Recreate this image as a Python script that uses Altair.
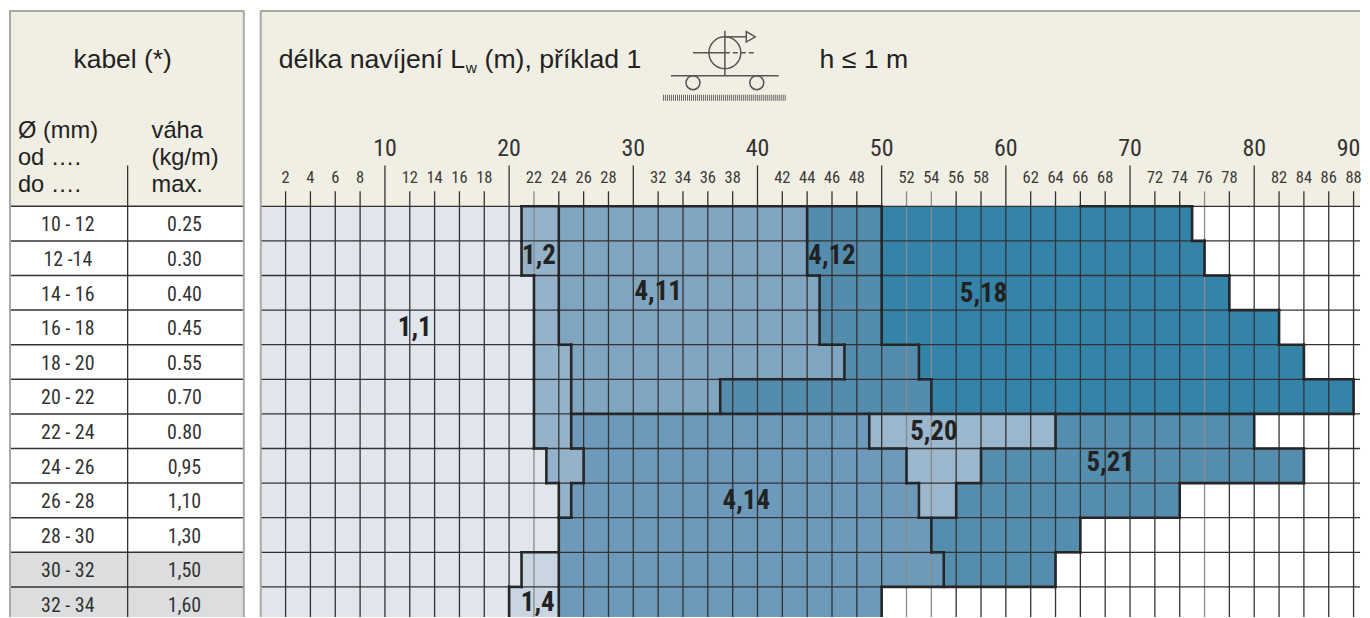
import altair as alt
import pandas as pd

# ---------- data ----------
diam_from = [10, 12, 14, 16, 18, 20, 22, 24, 26, 28, 30, 32]
diam_labels = ["10 - 12", "12 -14", "14 - 16", "16 - 18", "18 - 20", "20 - 22",
               "22 - 24", "24 - 26", "26 - 28", "28 - 30", "30 - 32", "32 - 34"]
weights = ["0.25", "0.30", "0.40", "0.45", "0.55", "0.70",
           "0.80", "0,95", "1,10", "1,30", "1,50", "1,60"]
row_fill = ["#ffffff"] * 10 + ["#dcddde"] * 2

row_edges = [
    [0, 21, 24, 44, 50, 75],
    [0, 21, 24, 44, 50, 76],
    [0, 22, 24, 45, 50, 78],
    [0, 22, 24, 45, 50, 82],
    [0, 22, 25, 47, 53, 84],
    [0, 22, 25, 37, 54, 88],
    [0, 22, 25, 49, 64, 80],
    [0, 23, 26, 52, 58, 84],
    [0, 24, 25, 53, 56, 74],
    [0, 24, 54, 66],
    [0, 21, 24, 55, 64],
    [0, 20, 24, 50],
]
row_zones = [
    ["1,1", "1,2", "4,11", "4,12", "5,18"],
    ["1,1", "1,2", "4,11", "4,12", "5,18"],
    ["1,1", "1,2", "4,11", "4,12", "5,18"],
    ["1,1", "1,2", "4,11", "4,12", "5,18"],
    ["1,1", "1,2", "4,11", "4,12", "5,18"],
    ["1,1", "1,2", "4,11", "4,12", "5,18"],
    ["1,1", "1,2", "4,14", "5,20", "5,21"],
    ["1,1", "1,2", "4,14", "5,20", "5,21"],
    ["1,1", "1,2", "4,14", "5,20", "5,21"],
    ["1,1", "4,14", "5,21"],
    ["1,1", "1,4", "4,14", "5,21"],
    ["1,1", "1,4", "4,14"],
]
zone_names = ["1,1", "1,2", "1,4", "4,11", "4,12", "4,14", "5,18", "5,20", "5,21"]
zone_colors = ["#e1e5ec", "#94b2ca", "#c9d5e1", "#80a5c1", "#548cae",
               "#6d9abb", "#3483a9", "#9bb7ce", "#548dae"]
zone_label_names = ["1,1", "1,2", "4,11", "4,12", "5,18", "5,20", "5,21", "4,14", "1,4"]
zone_label_m = [12.4, 22.4, 32.0, 46.0, 58.2, 54.2, 68.4, 39.1, 22.3]
zone_label_d = [17.06, 12.86, 14.96, 12.86, 15.06, 23.06, 24.86, 27.06, 32.96]
top_outline = [(21, 50), (66, 75)]

even_m = list(range(2, 90, 2))
grey_m = [22, 52, 54, 76]
major_labels = [10, 20, 30, 40, 50, 60, 70, 80, 90]
major_pos = [10, 20, 30, 40, 50, 60, 70, 80, 87.6]

BEIGE = "#f1eee3"
BORDER = "#a8a8a4"
DARK = "#333333"
NARROW = "'Roboto Condensed', 'Open Sans Condensed', 'DejaVu Sans Condensed', Roboto, sans-serif"
SANS = "Liberation Sans"

# ---------- scales ----------
PX_M = 12.455
H = 610
LW, RW = 237, 1103
d_scale = alt.Scale(domain=[-1.412, 33.746], range=[0, H], nice=False, zero=False)
m_scale = alt.Scale(domain=[-0.5 / PX_M, (RW - 0.5) / PX_M], range=[0, RW], nice=False, zero=False)
one = pd.DataFrame({"a": [0]})


def Y(f):
    return alt.Y(f, scale=d_scale, axis=None, title=None)


def X(f):
    return alt.X(f, scale=m_scale, axis=None, title=None)


def vtext(txt, x, y, size, font=SANS, **kw):
    return alt.Chart(one).mark_text(text=txt, font=font, fontSize=size, color="#222222",
                                    baseline="middle", **kw).encode(
        x=alt.value(x), y=alt.value(y))


def vrule(x, y, x2=None, y2=None, color=DARK, w=1.3, **kw):
    enc = dict(x=alt.value(x), y=alt.value(y))
    if x2 is not None:
        enc["x2"] = alt.value(x2)
    if y2 is not None:
        enc["y2"] = alt.value(y2)
    return alt.Chart(one).mark_rule(color=color, strokeWidth=w, **kw).encode(**enc)


# ---------- left table ----------
tbl = pd.DataFrame({"d": diam_from, "d2": [d + 2 for d in diam_from],
                    "mid": [d + 1.1 for d in diam_from],
                    "lab": diam_labels, "wt": weights, "c": row_fill})
L_TOP, L_HEAD = 2, 198
left_layers = [
    alt.Chart(one).mark_rect(color=BEIGE).encode(
        x=alt.value(2), x2=alt.value(237), y=alt.value(L_TOP), y2=alt.value(L_HEAD)),
    alt.Chart(tbl).mark_rect(clip=True).encode(
        x=alt.value(2), x2=alt.value(237), y=Y("d:Q"), y2="d2:Q",
        fill=alt.Fill("c:N", legend=None, scale=None)),
    alt.Chart(tbl).mark_rule(color=DARK, strokeWidth=1.5).encode(
        x=alt.value(2), x2=alt.value(237), y=Y("d:Q")),
    vrule(120, 157, y2=H, w=1.3),
    vrule(2, L_TOP, y2=H, color=BORDER, w=2),
    vrule(236.5, L_TOP, y2=H, color=BORDER, w=2),
    vrule(1, L_TOP, x2=237, color=BORDER, w=2),
    alt.Chart(tbl).mark_text(font=NARROW, fontSize=20, color="#333333", baseline="middle").encode(
        x=alt.value(60), y=Y("mid:Q"), text="lab:N"),
    alt.Chart(tbl).mark_text(font=NARROW, fontSize=20, color="#333333", baseline="middle").encode(
        x=alt.value(177), y=Y("mid:Q"), text="wt:N"),
    vtext("kabel (*)", 115, 51.5, 26.5, align="center"),
    vtext("Ø (mm)", 10, 122.5, 23.7, align="left"),
    vtext("od ….", 10, 150, 23.7, align="left"),
    vtext("do ….", 10, 177, 23.7, align="left"),
    vtext("váha", 144, 122.5, 23.7, align="left"),
    vtext("(kg/m)", 144, 150, 23.7, align="left"),
    vtext("max.", 144, 177, 23.7, align="left"),
]
left = alt.layer(*left_layers).properties(width=LW, height=H)

# ---------- main grid ----------
spans = []
for r, (edges, zones) in enumerate(zip(row_edges, row_zones)):
    for i, z in enumerate(zones):
        spans.append({"m": edges[i], "m2": edges[i + 1], "d": diam_from[r],
                      "d2": diam_from[r] + 2, "zone": z})
spans = pd.DataFrame(spans)


def zone_at(r, m):
    edges, zones = row_edges[r], row_zones[r]
    for i, z in enumerate(zones):
        if edges[i] <= m < edges[i + 1]:
            return z
    return None


seg = []
M_END = 90
for r in range(len(diam_from)):
    for m in range(1, M_END):
        if zone_at(r, m - 1) != zone_at(r, m):
            seg.append({"m": m, "m2": m, "d": diam_from[r], "d2": diam_from[r] + 2})
for r in range(1, len(diam_from)):
    start = None
    for m in range(0, M_END + 1):
        diff = m < M_END and zone_at(r - 1, m) != zone_at(r, m)
        if diff and start is None:
            start = m
        if not diff and start is not None:
            seg.append({"m": start, "m2": m, "d": diam_from[r], "d2": diam_from[r]})
            start = None
for a, b in top_outline:
    seg.append({"m": a, "m2": b, "d": diam_from[0], "d2": diam_from[0]})
seg = pd.DataFrame(seg)

ticks = pd.DataFrame({"m": even_m})
ticks["top"] = [7.64 if m % 10 == 0 else 9.13 for m in even_m]
ticks["bottom"] = 34
ticks["tone"] = ["grey" if m in grey_m else "dark" for m in even_m]
minor = pd.DataFrame({"m": [m for m in even_m if m % 10], "t": [str(m) for m in even_m if m % 10]})
major = pd.DataFrame({"m": major_pos, "t": [str(v) for v in major_labels]})
hlines = pd.DataFrame({"d": diam_from})
zlab = pd.DataFrame({"m": zone_label_m, "d": zone_label_d, "t": zone_label_names})


def ix(px):
    return px - 259


def iy(py):
    return py - 8


ICON = "#555555"
icon = [
    vrule(ix(693), iy(52), x2=ix(725), color=ICON, w=1.5),
    vrule(ix(725), iy(52), x2=ix(757), color=ICON, w=1.5, strokeDash=[5, 3]),
    vrule(ix(725), iy(30), y2=iy(75), color=ICON, w=1.5),
    vrule(ix(671), iy(75), x2=ix(779), color=ICON, w=1.5),
    vrule(ix(725), iy(36), x2=ix(748), color=ICON, w=1.5),
    vrule(ix(663), iy(97), x2=ix(787), color="#666666", w=6, strokeDash=[1, 1]),
    alt.Chart(one).mark_point(shape="circle", size=1024, filled=False, color=ICON, strokeWidth=1.5, opacity=1).encode(
        x=alt.value(ix(725)), y=alt.value(iy(52))),
    alt.Chart(one).mark_point(shape="circle", size=196, filled=False, color=ICON, strokeWidth=1.5, opacity=1).encode(
        x=alt.value(ix(693)), y=alt.value(iy(82))),
    alt.Chart(one).mark_point(shape="circle", size=196, filled=False, color=ICON, strokeWidth=1.5, opacity=1).encode(
        x=alt.value(ix(757)), y=alt.value(iy(82))),
    alt.Chart(one).mark_point(shape="triangle-right", size=110, filled=True, fill=BEIGE, stroke=ICON, strokeWidth=1.5, opacity=1).encode(
        x=alt.value(ix(751)), y=alt.value(iy(36))),
]

right_layers = [
    alt.Chart(one).mark_rect(color=BEIGE).encode(
        x=alt.value(0.5), x2=alt.value(RW), y=alt.value(2), y2=alt.value(198)),
    alt.Chart(spans).mark_rect(clip=True).encode(
        x=X("m:Q"), x2="m2:Q", y=Y("d:Q"), y2="d2:Q",
        fill=alt.Fill("zone:N", legend=None,
                      scale=alt.Scale(domain=zone_names, range=zone_colors))),
    alt.Chart(ticks).mark_rule(strokeWidth=1.3, clip=True).encode(
        x=X("m:Q"), y=Y("top:Q"), y2="bottom:Q",
        stroke=alt.Stroke("tone:N", legend=None,
                          scale=alt.Scale(domain=["dark", "grey"], range=[DARK, "#8b8b8b"]))),
    alt.Chart(hlines).mark_rule(color=DARK, strokeWidth=1.3).encode(
        x=alt.value(0.5), x2=alt.value(RW), y=Y("d:Q")),
    alt.Chart(seg).mark_rule(color="#262626", strokeWidth=2.6, strokeCap="square", clip=True).encode(
        x=X("m:Q"), x2="m2:Q", y=Y("d:Q"), y2="d2:Q"),
    vrule(0.5, 2, y2=H, color=BORDER, w=2),
    vrule(0, 2, x2=RW, color=BORDER, w=2),
    alt.Chart(minor).mark_text(font=NARROW, fontSize=16.5, color="#3a3a3a", baseline="middle").encode(
        x=X("m:Q"), y=alt.value(170), text="t:N"),
    alt.Chart(major).mark_text(font=NARROW, fontSize=24, color="#333333", baseline="middle").encode(
        x=X("m:Q"), y=alt.value(141), text="t:N"),
    alt.Chart(zlab).mark_text(font=NARROW, fontSize=27, fontWeight="bold", color="#222222", baseline="middle").encode(
        x=X("m:Q"), y=Y("d:Q"), text="t:N"),
    vtext("délka navíjení L", ix(277.5), 51.5, 26.7, align="left"),
    vtext("w", ix(465), 59, 15.5, align="left"),
    vtext("(m), příklad 1", ix(484), 51.5, 26.7, align="left"),
    vtext("h ≤ 1 m", ix(820), 51.5, 26.7, align="left"),
] + icon
right = alt.layer(*right_layers).properties(width=RW, height=H)

chart = alt.hconcat(left, right, spacing=14).properties(padding=0).configure_view(stroke=None)

chart.save("out.html", embed_options={"renderer": "svg", "actions": False})
